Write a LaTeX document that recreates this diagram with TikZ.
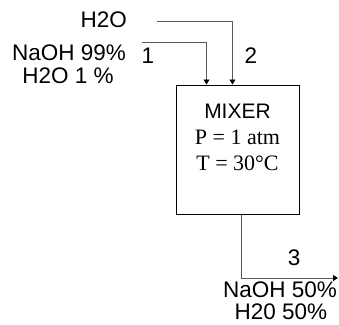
\documentclass[tikz,border=0pt]{standalone}
\usepackage{fontspec}
\setmainfont{Liberation Serif}
\setsansfont{Liberation Sans}
\usetikzlibrary{arrows.meta}

\begin{document}
\begin{tikzpicture}[
    x=1pt, y=-1pt,
    stream_label/.style={font=\sffamily\fontsize{22.5}{25}\selectfont, inner sep=0pt, anchor=base},
    cond_label/.style={font=\rmfamily\fontsize{22}{25}\selectfont, inner sep=0pt, anchor=base},
    unit_box/.style={draw, line width=1pt, minimum width=123pt, minimum height=129pt, inner sep=0pt},
    stream_line/.style={draw=black!65, line width=0.9pt},
    feed_arrow/.style={stream_line, -{Triangle[width=6pt, length=5pt, color=black, fill=black]}}
]
    \useasboundingbox (0,0) rectangle (339,324);

    % Mixer unit
    \node[unit_box] (mixer) at (237.5,149.5) {};
    \node[stream_label, font=\sffamily\fontsize{21}{25}\selectfont] (mixname) at (237.5,118) {MIXER};
    \node[cond_label] (pres) at (237.5,144) {P = 1 atm};
    \node[cond_label] (temp) at (237.5,170) {T = 30\textdegree C};

    % Feed streams
    \node[stream_label, anchor=base east] (water) at (127,27) {H2O};
    \node[stream_label] (caustic) at (69,60) {NaOH 99\%};
    \node[stream_label] (causticw) at (68,83) {H2O 1 \%};
    \coordinate (s1start) at (142,42);
    \coordinate (s2start) at (157,21);
    \draw[feed_arrow] (s1start) -| ([xshift=31pt]mixer.north west);
    \draw[feed_arrow] (s2start) -| ([xshift=57pt]mixer.north west);
    \node[stream_label] (num1) at (148,63) {1};
    \node[stream_label] (num2) at (251,63) {2};

    % Product stream
    \coordinate (s3end) at (338,278);
    \draw[feed_arrow] ([xshift=66pt]mixer.south west) |- (s3end);
    \node[stream_label] (num3) at (294,265) {3};
    \node[stream_label] (prod) at (280,297) {NaOH 50\%};
    \node[stream_label] (prodw) at (281,319) {H20 50\%};
\end{tikzpicture}
\end{document}
